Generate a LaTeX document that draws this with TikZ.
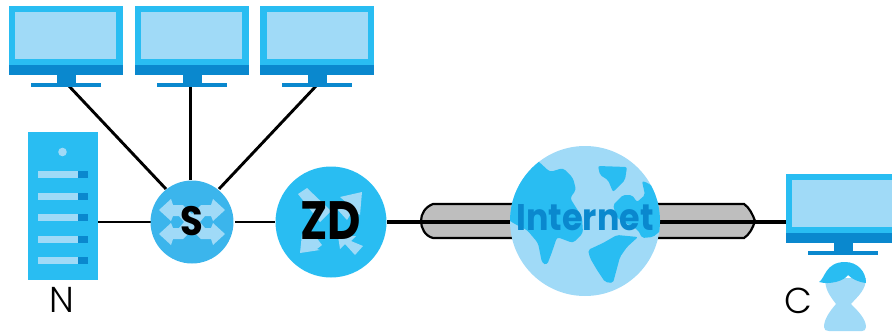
\documentclass[tikz,border=0pt]{standalone}
\usepackage{fontspec}
\setmainfont{Poppins}
\newfontfamily\lightf{Poppins Light}
\definecolor{cA}{HTML}{29BDF2}
\definecolor{cL}{HTML}{A0DAF7}
\definecolor{cD}{HTML}{0A88CE}
\definecolor{cS}{HTML}{3BB5EC}
\definecolor{cG}{HTML}{BEBEBE}
\tikzset{
  wire/.style={draw=black,line width=2.9pt},
  wirebold/.style={draw=black,line width=3.6pt},
  lab/.style={font=\lightf\fontsize{36}{36}\selectfont,text=black,inner sep=0pt}
}
\newcommand{\monitor}[3]{% x, y, name
  \begin{scope}[shift={(#1,#2)}]
    \fill[cA] (0,0) rectangle (114,59);
    \fill[cL] (6.5,6) rectangle (107.5,53);
    \fill[cD] (0,59) rectangle (114,69);
    \fill[cD] (48,69) rectangle (67,79);
    \fill[cD] (22,76.5) rectangle (92,81);
    \coordinate (#3) at (0,0);
  \end{scope}}
\newcommand{\slotrow}[1]{%
  \fill[cL] (37.5,#1-3.5) rectangle (78,#1+3.5);
  \fill[cD] (78,#1-3.5) rectangle (88,#1+3.5);}
\begin{document}
\begin{tikzpicture}[x=1pt,y=-1pt]
\useasboundingbox (0,0) rectangle (892,335);
\begin{scope}
\clip (0,0) rectangle (892,335);
% connectors are drawn first
\coordinate (m1p) at (68,85);
\coordinate (m2p) at (190.5,85);
\coordinate (m3p) at (317,85);
\coordinate (srvp) at (98,222);
\coordinate (sw) at (192,222);
\coordinate (zd) at (331,222);
\coordinate (tl) at (421,222);
\coordinate (tr) at (755,222);
\coordinate (m4p) at (786,222);
\coordinate (swa) at (166,189);
\coordinate (swb) at (190.5,180);
\coordinate (swc) at (219,189);
\draw[wire] (m1p) -- (swa);
\draw[wire] (m2p) -- (swb);
\draw[wire] (m3p) -- (swc);
\draw[wire,line width=2.4pt] (srvp) -- (152,222);
\draw[wire,line width=2.2pt] (235,222) -- (275,222);
\draw[wirebold] (387,222) -- (tl);
\draw[wirebold] (tr) -- (m4p);
% tunnel
\path[fill=cG,draw=black,line width=2.2pt] (433,204) -- (744,204)
  .. controls (749,207) and (753,215) .. (755,221)
  .. controls (753,228) and (749,235) .. (744,238)
  -- (433,238) .. controls (425,236) and (421,228) .. (421,221)
  .. controls (421,214) and (425,207) .. (433,204) -- cycle;
\draw[wirebold] (tl) -- (tr);
% monitors
\monitor{8.5}{6}{m1}
\monitor{134.5}{6}{m2}
\monitor{260}{6}{m3}
\monitor{785.5}{174}{m4}
% server
\fill[cA] (27.5,132) rectangle (98,280);
\fill[cL] (62.5,152) circle (4.3);
\slotrow{174.5}\slotrow{196}\slotrow{217}\slotrow{239}\slotrow{260}
\node[lab,anchor=center] (labN) at (61.5,300) {N};
% switch
\fill[cS] (sw) circle (41.5);
\fill[cL] (159,210) -- (171,199) -- (173,205) -- (183,205) -- (192,214) -- (201,205) -- (211,205) -- (213,199) -- (225,210) -- (213,221) -- (211,216) -- (205,216) -- (200,222) -- (205,228) -- (211,228) -- (213,223) -- (225,234) -- (213,245) -- (211,239) -- (201,239) -- (192,230) -- (183,239) -- (173,239) -- (171,245) -- (159,234) -- (171,223) -- (173,228) -- (179,228) -- (184,222) -- (179,216) -- (173,216) -- (171,221) -- cycle;
\node[inner sep=0pt,xscale=0.9,font=\fontsize{41}{41}\selectfont\bfseries] (labS) at (192,221) {S};
% ZD
\fill[cA] (zd) circle (55.5);
\fill[cL] (298,194) -- (307,188) -- (331,211) -- (320,222) -- cycle;
\fill[cL] (340,197) -- (362,192) -- (360,215) -- (353,210) -- (347,220) -- (338,210) -- (347,203) -- cycle;
\fill[cL] (300,253) -- (302,234) -- (308,238) -- (313,233) -- (322,245) -- (317,249) -- (320,250) -- cycle;
\fill[cL] (338,236) -- (356,236) -- (351,241) -- (363,246) -- (355,255) -- (345,244) -- (340,249) -- cycle;
\node[inner sep=0pt,xscale=0.85,font=\fontsize{54}{54}\selectfont\bfseries] (labZ) at (331,221) {ZD};
% globe
\fill[cL] (585,221) circle (75);
\begin{scope}
\clip (585,221) circle (75);
\fill[cA,rounded corners=3pt] (538,161) -- (550,172) -- (563,168) -- (573,178) -- (576,190) -- (570,198) -- (582,217) -- (583,233) -- (573,243) -- (557,237) -- (552,252) -- (547,265) -- (542,263) -- (538,243) -- (527,230) -- (513,223) -- (480,200) -- (500,140) -- cycle;
\fill[cA,rounded corners=2pt] (598,166) -- (627,167) -- (625,180) -- (613,192) -- (608,180) -- (600,175) -- cycle;
\fill[cA,rounded corners=2pt] (642,181) -- (648,183) -- (660,193) -- (670,223) -- (653,237) -- (642,238) -- (638,230) -- (617,218) -- (613,205) -- (623,195) -- (632,195) -- (637,202) -- (645,195) -- cycle;
\fill[cA,rounded corners=2pt] (588,250) -- (603,243) -- (617,235) -- (638,237) -- (627,247) -- (620,257) -- (613,283) -- (605,282) -- (597,270) -- (590,258) -- cycle;
\end{scope}
\node[inner sep=0pt,xscale=0.9,text=cD,font=\fontsize{37}{37}\selectfont\bfseries] (labI) at (585,218) {Internet};
% person
\fill[cL] (825,278) -- (866,278) .. controls (866,290) and (858,296) .. (851,304)
  .. controls (858,311) and (866,319) .. (866,327) .. controls (866,330) and (864,331) .. (862,331)
  -- (829,331) .. controls (826,331) and (824,330) .. (824,327)
  .. controls (824,319) and (830,311) .. (836,304) .. controls (830,296) and (825,290) .. (825,278) -- cycle;
\fill[cA] (819,282) .. controls (825,279) and (825,262) .. (845,262) .. controls (858,262) and (866,272) .. (866,283) .. controls (858,282) and (852,279) .. (848,275) .. controls (844,281) and (830,285) .. (819,282) -- cycle;
\node[lab,anchor=center] (labC) at (798,301) {C};
\end{scope}
\end{tikzpicture}
\end{document}
